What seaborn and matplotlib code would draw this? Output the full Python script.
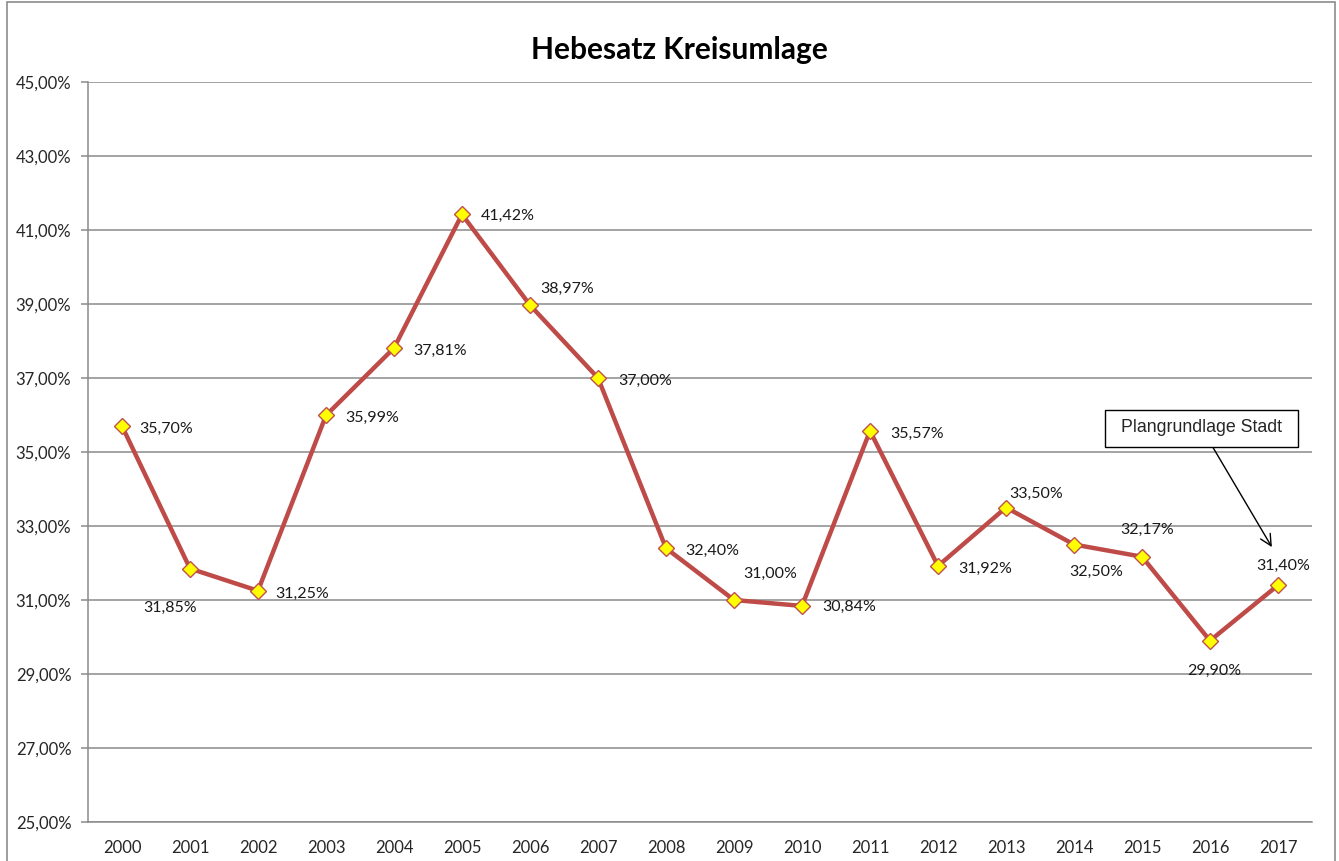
import matplotlib
matplotlib.use("Agg")
import matplotlib.pyplot as plt
import seaborn as sns
import numpy as np
import pandas as pd
from matplotlib.patches import Rectangle

years = ["2000", "2001", "2002", "2003", "2004", "2005", "2006", "2007", "2008",
         "2009", "2010", "2011", "2012", "2013", "2014", "2015", "2016", "2017"]
rates = [35.70, 31.85, 31.25, 35.99, 37.81, 41.42, 38.97, 37.00, 32.40,
         31.00, 30.84, 35.57, 31.92, 33.50, 32.50, 32.17, 29.90, 31.40]
# label offsets in points (dx, dy) relative to each marker
label_dx = [32, -14, 32, 33, 33, 33, 27, 34, 33, 26, 34, 34, 34, 22, 16, 4, 3, 4]
label_dy = [-2, -28, -2, -2, -2, -1, 12, -2, -2, 19, -1, -2, -2, 10, -20, 19, -22, 14]
y_ticks = [25, 27, 29, 31, 33, 35, 37, 39, 41, 43, 45]
note_text = "Plangrundlage Stadt"

df = pd.DataFrame({"pos": np.arange(len(years)), "rate": rates})

sns.set_style("white")
plt.rcParams["font.family"] = ["Lato", "DejaVu Sans"]

W, H = 1339, 861
fig = plt.figure(figsize=(W / 100, H / 100), dpi=100)
ax = fig.add_axes([88 / W, (H - 822) / H, (1312 - 88) / W, (822 - 82) / H])

# figure border
fig.patches.append(Rectangle((7 / W, -0.01), (1335 - 7) / W, (H - 2) / H + 0.01,
                             transform=fig.transFigure, fill=False,
                             edgecolor="#8c8c8c", linewidth=1.2))

for t in y_ticks:
    ax.axhline(t, color="#8a8a8a", linewidth=1.1, zorder=0)

sns.lineplot(data=df, x="pos", y="rate", ax=ax, color="#BE4B48", linewidth=3.2,
             marker="D", markersize=8, markerfacecolor="#FFFF00",
             markeredgecolor="#C0504D", markeredgewidth=1.0, zorder=3)

for i, v in enumerate(rates):
    ax.annotate(f"{v:.2f}%".replace(".", ","), (i, v),
                xytext=(label_dx[i], label_dy[i]), textcoords="offset points",
                ha="center", va="center", fontsize=11.5, color="#1a1a1a")

ax.set_xlim(-0.5, len(years) - 0.5)
ax.set_ylim(25, 45)
ax.set_yticks(y_ticks)
ax.set_yticklabels([f"{t:.2f}%".replace(".", ",") for t in y_ticks], fontsize=12)
ax.set_xticks(np.arange(len(years)))
ax.set_xticklabels(years, fontsize=12)
ax.set_xticks(np.arange(-0.5, len(years)), minor=True)
ax.tick_params(axis="x", which="major", length=0, pad=13)
ax.tick_params(axis="x", which="minor", length=5, color="#8a8a8a", width=1.1)
ax.tick_params(axis="y", length=5, color="#8a8a8a", width=1.1, pad=7, left=True)
ax.set_xlabel("")
ax.set_ylabel("")

for s in ["top", "right"]:
    ax.spines[s].set_visible(False)
for s in ["left", "bottom"]:
    ax.spines[s].set_color("#8a8a8a")
    ax.spines[s].set_linewidth(1.1)

fig.text((530 + 828) / 2 / W, 1 - 50 / H, "Hebesatz Kreisumlage", ha="center",
         va="center", fontsize=21.5, fontweight="bold", color="#000000")

# callout box with arrow
ax.add_patch(Rectangle((14.456, 35.135), 17.294 - 14.456, 1.0, fill=True,
                       facecolor="white", edgecolor="#000000", linewidth=1.0,
                       zorder=5))
ax.text((14.456 + 17.294) / 2, 35.65, note_text, ha="center", va="center",
        fontsize=12.8, family=["Liberation Sans", "DejaVu Sans"], zorder=6)
ax.annotate("", xy=(16.91, 32.43), xytext=(16.04, 35.135),
            arrowprops=dict(arrowstyle="->", color="#000000", lw=1.0,
                            mutation_scale=20, shrinkA=0, shrinkB=0))

fig.savefig("out.png", dpi=100)
